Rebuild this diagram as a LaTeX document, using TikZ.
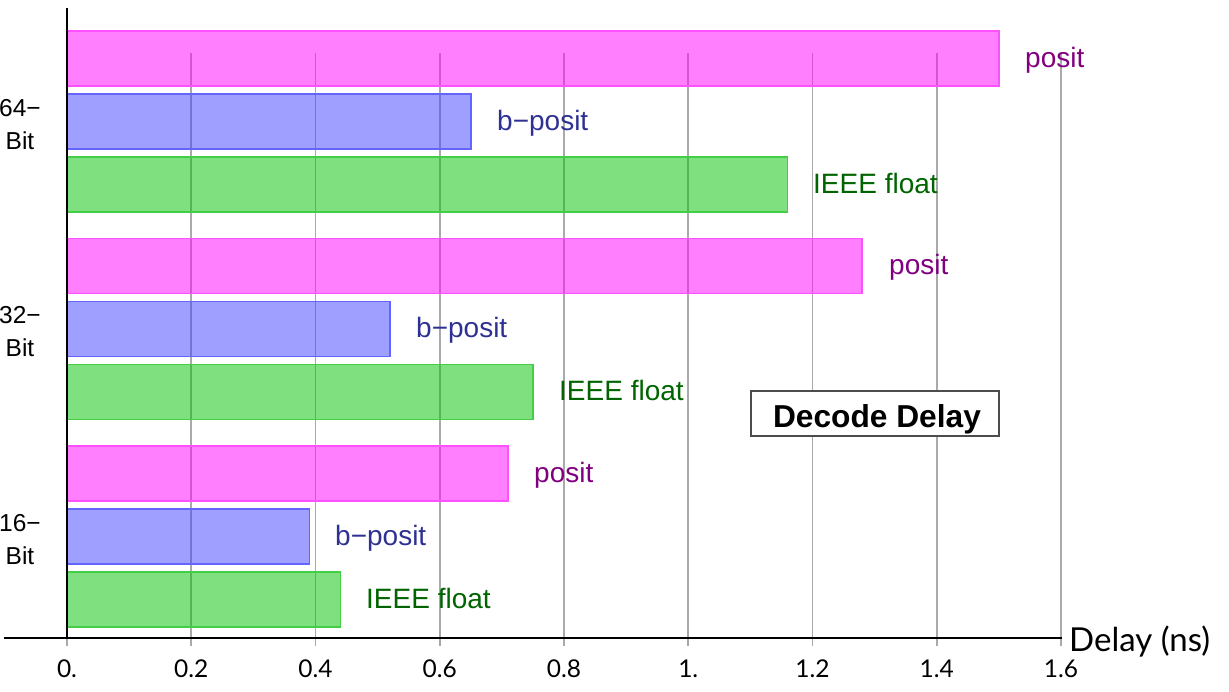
\documentclass[tikz,border=0pt]{standalone}
\usepackage{fontspec}
\setmainfont{Liberation Sans}
\newfontfamily\tickfont{Lato}
\definecolor{posfill}{RGB}{255,0,255}
\definecolor{posedge}{RGB}{255,80,255}
\definecolor{bpfill}{RGB}{64,64,255}
\definecolor{bpedge}{RGB}{100,100,255}
\definecolor{iefill}{RGB}{0,193,0}
\definecolor{ieedge}{RGB}{70,205,70}
\definecolor{postext}{RGB}{128,0,128}
\definecolor{bptext}{RGB}{46,49,146}
\definecolor{ietext}{RGB}{0,100,0}
\definecolor{gridgray}{RGB}{170,170,170}
\begin{document}
\begin{tikzpicture}[x=1pt,y=-1pt,
  gridline/.style={draw=gridgray,line width=1.9pt},
  axisline/.style={draw=black,line width=1.6pt},
  posbar/.style={fill=posfill,fill opacity=0.5,draw=posedge,line width=1.5pt},
  bpbar/.style={fill=bpfill,fill opacity=0.5,draw=bpedge,line width=1.5pt},
  iebar/.style={fill=iefill,fill opacity=0.5,draw=ieedge,line width=1.5pt},
  barlabel/.style={anchor=base west,inner sep=0pt,font=\fontsize{28}{34}\selectfont},
  ylab/.style={anchor=base,inner sep=0pt,font=\fontsize{24.5}{30}\selectfont},
  ticklab/.style={anchor=base,inner sep=0pt,font=\tickfont\fontsize{24.5}{28}\selectfont}]
\useasboundingbox (0,0) rectangle (1229,691);
% grid lines
\foreach \v in {0,0.2,0.4,0.6,0.8,1.0,1.2,1.4,1.6}{
  \draw[gridline] ({67+621.25*\v},53) -- ({67+621.25*\v},646);
}
% bars
\newcommand{\chartbar}[3]{% style, top y, value
  \draw[#1] (67,#2) rectangle ({67+621.25*#3},{#2+55});
}
\chartbar{posbar}{31}{1.5}
\chartbar{bpbar}{94}{0.65}
\chartbar{iebar}{157}{1.16}
\chartbar{posbar}{238.5}{1.28}
\chartbar{bpbar}{301.5}{0.52}
\chartbar{iebar}{364.5}{0.75}
\chartbar{posbar}{446}{0.71}
\chartbar{bpbar}{509}{0.39}
\chartbar{iebar}{572}{0.44}
% axes
\coordinate (ytop) at (67,8);
\coordinate (origin) at (67,638);
\coordinate (xleft) at (4,638);
\coordinate (xright) at (1062,638);
\draw[axisline] (ytop) -- (origin);
\draw[axisline] (xleft) -- (xright);
% bar labels
\node[barlabel,text=postext] (p64) at (1025,67) {posit};
\node[barlabel,text=bptext] (b64) at (497,130) {b\textminus posit};
\node[barlabel,text=ietext] (i64) at (813,193.5) {IEEE float};
\node[barlabel,text=postext] (p32) at (889,274.5) {posit};
\node[barlabel,text=bptext] (b32) at (416,337.5) {b\textminus posit};
\node[barlabel,text=ietext] (i32) at (559,400.5) {IEEE float};
\node[barlabel,text=postext] (p16) at (534,482) {posit};
\node[barlabel,text=bptext] (b16) at (335,545) {b\textminus posit};
\node[barlabel,text=ietext] (i16) at (366,608) {IEEE float};
% y labels
\node[ylab] (y64a) at (20,116) {64\textminus};
\node[ylab] (y64b) at (20,149) {Bit};
\node[ylab] (y32a) at (20,323.5) {32\textminus};
\node[ylab] (y32b) at (20,356.5) {Bit};
\node[ylab] (y16a) at (20,531) {16\textminus};
\node[ylab] (y16b) at (20,564) {Bit};
% ticks
\foreach \v/\t [count=\i] in {0/0.,0.2/0.2,0.4/0.4,0.6/0.6,0.8/0.8,1.0/1.,1.2/1.2,1.4/1.4,1.6/1.6}{
  \node[ticklab] (tick\i) at ({67+621.25*\v},677) {\t};
}
\node[anchor=base west,inner sep=0pt,font=\tickfont\fontsize{33}{38}\selectfont] (xlabel) at (1069,651) {Delay (ns)};
% title box
\draw[draw=black!70,line width=1.3pt,fill=white] (751,391) rectangle (999,436);
\node[anchor=base,inner sep=0pt,font=\bfseries\fontsize{31.7}{36}\selectfont] (title) at (877,427) {Decode Delay};
\end{tikzpicture}
\end{document}
